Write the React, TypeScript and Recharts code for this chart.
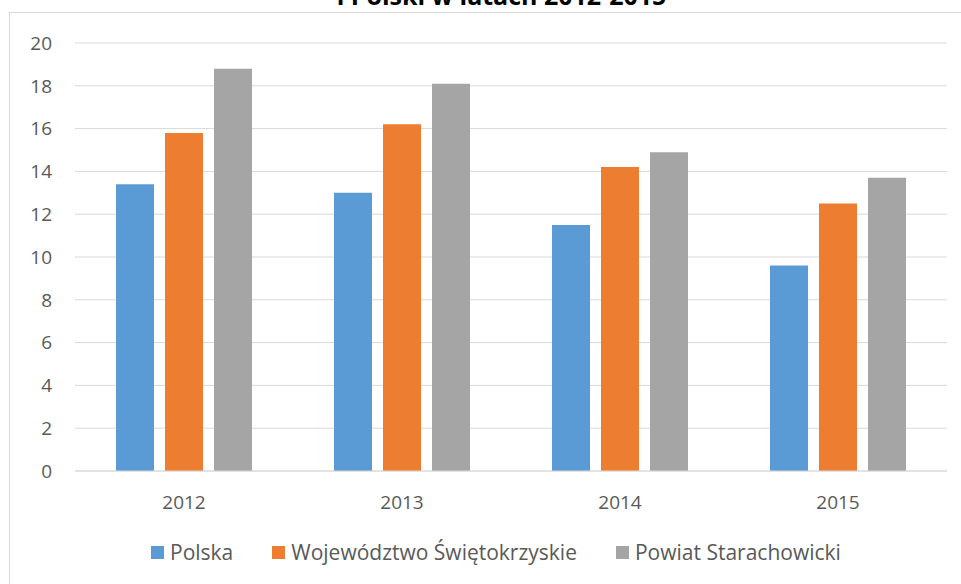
import React from "react";
import { BarChart, Bar, XAxis, YAxis, CartesianGrid } from "recharts";

const years = ["2012", "2013", "2014", "2015"];
const polska = [13.4, 13.0, 11.5, 9.6];
const swietokrzyskie = [15.8, 16.2, 14.2, 12.5];
const starachowicki = [18.8, 18.1, 14.9, 13.7];
const yTicks = [0, 2, 4, 6, 8, 10, 12, 14, 16, 18, 20];

const series = [
  { key: "polska", name: "Polska", color: "#5B9BD5" },
  { key: "woj", name: "Województwo Świętokrzyskie", color: "#ED7D31" },
  { key: "powiat", name: "Powiat Starachowicki", color: "#A5A5A5" },
];

const data = years.map((y, i) => ({
  year: y,
  polska: polska[i],
  woj: swietokrzyskie[i],
  powiat: starachowicki[i],
}));

const font = "'Open Sans', sans-serif";

export default function App() {
  return (
    <div
      style={{
        position: "absolute",
        left: 0,
        top: 0,
        width: 961,
        height: 584,
        overflow: "hidden",
        background: "#fff",
      }}
    >
      <div
        style={{
          position: "absolute",
          left: 9,
          top: 12,
          width: 1000,
          height: 700,
          border: "1px solid #d9d9d9",
        }}
      />
      <div
        style={{
          position: "absolute",
          left: 0,
          width: 961,
          top: -22,
          textAlign: "center",
          paddingLeft: 21,
          fontFamily: font,
          fontWeight: 700,
          fontSize: 25,
          color: "#000",
          whiteSpace: "nowrap",
        }}
      >
        i Polski w latach 2012-2015
      </div>
      <div style={{ position: "absolute", left: 0, top: 0 }}>
        <BarChart
          width={961}
          height={584}
          data={data}
          margin={{ top: 43, right: 14, left: 0, bottom: 0 }}
          barCategoryGap={41}
          barGap={11}
        >
          <CartesianGrid vertical={false} stroke="#d9d9d9" />
          <XAxis
            dataKey="year"
            axisLine={{ stroke: "#d9d9d9" }}
            tickLine={false}
            tick={{ fill: "#595959", fontFamily: font, fontSize: 19 }}
            tickMargin={19}
            height={113}
          />
          <YAxis
            domain={[0, 20]}
            ticks={yTicks}
            width={75}
            axisLine={false}
            tickLine={false}
            tickSize={0}
            tickMargin={23}
            tick={{ fill: "#595959", fontFamily: font, fontSize: 19 }}
          />
          {series.map((s) => (
            <Bar
              key={s.key}
              dataKey={s.key}
              name={s.name}
              fill={s.color}
              barSize={38}
              isAnimationActive={false}
            />
          ))}
        </BarChart>
      </div>
      <div
        style={{
          position: "absolute",
          left: 151,
          top: 538,
          display: "flex",
          gap: 39,
          fontFamily: font,
          fontSize: 21,
          color: "#595959",
          whiteSpace: "nowrap",
        }}
      >
        {series.map((s) => (
          <div key={s.key} style={{ display: "flex", alignItems: "center" }}>
            <span
              style={{
                width: 13,
                height: 13,
                background: s.color,
                display: "inline-block",
                marginRight: 6,
              }}
            />
            <span>{s.name}</span>
          </div>
        ))}
      </div>
    </div>
  );
}
